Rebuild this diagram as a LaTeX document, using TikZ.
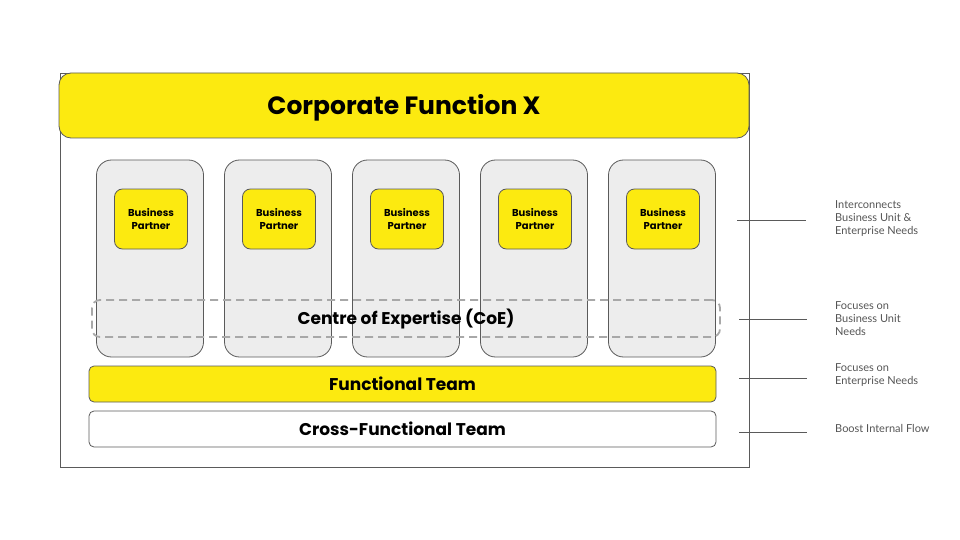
\documentclass[tikz,border=0pt]{standalone}
\usepackage{fontspec}
\setmainfont{Poppins}
\newfontfamily\notefont{Lato}
\usepackage{xcolor}
\definecolor{cfyellow}{HTML}{FCEA10}
\definecolor{colgray}{HTML}{EDEDED}
\definecolor{edgegray}{HTML}{5A5A5A}
\definecolor{dashgray}{HTML}{A8A8A8}
\definecolor{notegray}{HTML}{555555}
\usetikzlibrary{positioning}

\begin{document}
\begin{tikzpicture}[
    x=1pt, y=-1pt,
    frame/.style={
        rectangle,
        draw=edgegray,
        line width=0.8pt,
        minimum width=689pt,
        minimum height=394pt
    },
    header/.style={
        rectangle,
        rounded corners=12pt,
        draw=edgegray,
        line width=0.8pt,
        fill=cfyellow,
        font=\fontsize{25}{29}\selectfont\bfseries,
        text height=17.5pt,
        text depth=0pt,
        minimum width=690pt,
        minimum height=65pt
    },
    column/.style={
        rectangle,
        rounded corners=15pt,
        draw=edgegray,
        line width=0.8pt,
        fill=colgray,
        minimum width=107pt,
        minimum height=197pt
    },
    partner/.style={
        rectangle,
        rounded corners=8pt,
        draw=edgegray,
        line width=0.8pt,
        fill=cfyellow,
        align=center,
        font=\fontsize{10}{13}\selectfont\bfseries,
        minimum width=73pt,
        minimum height=60pt
    },
    coe/.style={
        rectangle,
        rounded corners=8pt,
        draw=dashgray,
        dashed,
        dash pattern=on 8pt off 5pt,
        line width=1.8pt,
        font=\fontsize{17}{21}\selectfont\bfseries,
        minimum width=628pt,
        minimum height=37pt
    },
    team/.style={
        rectangle,
        rounded corners=5pt,
        draw=edgegray,
        line width=0.8pt,
        font=\fontsize{17}{21}\selectfont\bfseries,
        minimum width=627pt,
        minimum height=36pt
    },
    guide/.style={
        draw=edgegray,
        line width=0.8pt
    },
    note/.style={
        anchor=west,
        align=left,
        inner sep=0pt,
        text=notegray,
        font=\notefont\fontsize{11}{13}\selectfont
    }
]
\useasboundingbox (0,0) rectangle (960,540);

% =========================================================
% Outer frame and title
% =========================================================
\node[frame] (outer) at (404.5,270) {};
\node[header] (corp) at (404,105.5) {Corporate Function X};

% =========================================================
% Business unit columns
% =========================================================
\foreach \i in {1,...,5} {
    \node[column] (col\i) at ({150+128*(\i-1)},258.5) {};
    \node[partner] (bp\i) at ({151+128*(\i-1)},219) {Business\\Partner};
}

% =========================================================
% Centre of expertise and teams
% =========================================================
\node[coe] (coe) at (406,318.5) {Centre of Expertise (CoE)};

\node[team, fill=cfyellow] (functional) at (402.5,384) {Functional Team};
\node[team, fill=white] (cross) at (402.5,429) {Cross-Functional Team};

% =========================================================
% Side notes
% =========================================================
\node[note] (noteBP) at (835,219)
{Interconnects\\Business Unit \&\\Enterprise Needs};
\node[note] (noteCoE) at (835,319)
{Focuses on\\Business Unit\\Needs};
\node[note] (noteFT) at (835,374.5)
{Focuses on\\Enterprise Needs};
\node[note] (noteCFT) at (835,428.5)
{Boost Internal Flow};

\coordinate (bpL) at (737,220);
\coordinate (bpR) at (806,220);
\coordinate (coeL) at (739,319);
\coordinate (coeR) at (807,319);
\coordinate (ftL) at (739,378);
\coordinate (ftR) at (807,378);
\coordinate (cftL) at (739,432);
\coordinate (cftR) at (807,432);

\draw[guide] (bpL) -- (bpR);
\draw[guide] (coeL) -- (coeR);
\draw[guide] (ftL) -- (ftR);
\draw[guide] (cftL) -- (cftR);

\end{tikzpicture}
\end{document}
